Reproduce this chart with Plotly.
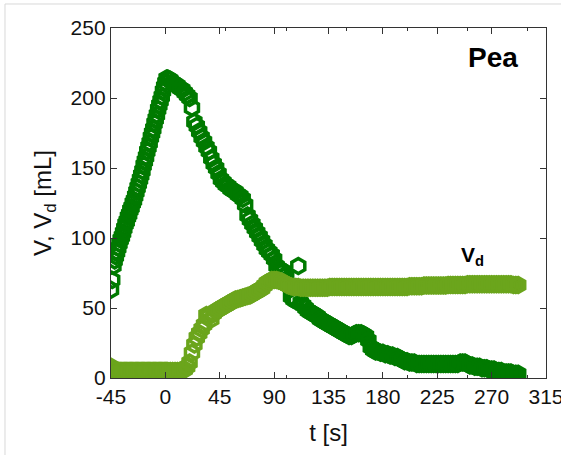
import plotly.graph_objects as go

# time axis [s]
t = [-45, -44, -43, -42, -41, -40, -39, -38, -37, -36, -35, -34, -33, -32, -31, -30,
     -29, -28, -27, -26, -25, -24, -23, -22, -21, -20, -19, -18, -17, -16, -15, -14,
     -13, -12, -11, -10, -9, -8, -7, -6, -5, -4, -3, -2, -1, 0, 1, 2,
     4, 6, 8, 10, 12, 14, 16, 18, 20, 22, 24, 26, 28, 30, 32, 34, 36, 38, 40, 42, 44,
     46, 48, 50, 52, 54, 56, 58, 60, 62, 64, 66, 68, 70, 72, 74, 76, 78, 80, 82, 84,
     86, 88, 90, 92, 94, 96, 98, 100, 102, 104, 106, 108, 110, 112, 114, 116, 118, 120,
     122, 124, 126, 128, 130, 132, 134, 136, 138, 140, 142, 144, 146, 148, 150, 152,
     154, 156, 158, 160, 162, 164, 166, 168, 170, 172, 174, 176, 178, 180, 182, 184,
     186, 188, 190, 192, 194, 196, 198, 200, 202, 204, 206, 208, 210, 212, 214, 216,
     218, 220, 222, 224, 226, 228, 230, 232, 234, 236, 238, 240, 242, 244, 246, 248,
     250, 252, 254, 256, 258, 260, 262, 264, 266, 268, 270, 272, 274, 276, 278, 280,
     282, 284, 286, 288, 290, 292]

# V [mL]
V = [63, 70, 80, 84, 87, 90, 93, 96, 99, 101, 104, 107, 110, 112, 115, 117,
     120, 122, 125, 127, 130, 133, 136, 139, 142, 145, 148, 152, 155, 158, 162, 165,
     168, 172, 175, 178, 182, 185, 188, 192, 195, 198, 201, 205, 208, 211, 214, 214,
     213, 211, 210, 209, 207, 206, 204, 202, 200, 193, 183, 180, 176, 172, 169, 165, 162, 157, 153, 150, 146,
     142, 140, 138, 137, 135, 134, 133, 131, 130, 128, 124, 116, 113, 110, 107, 104, 101, 98, 95, 92,
     90, 88, 85, 80, 78, 77, 76, 74, 66, 58, 56, 55, 80, 54, 52, 50, 48, 47,
     46, 45, 44, 42, 41, 40, 39, 38, 37, 36, 35, 34, 33, 32, 31, 30,
     30, 31, 32, 32, 32, 31, 30, 27, 22, 20, 19, 19, 18, 18, 17, 17,
     16, 16, 15, 15, 14, 13, 12, 12, 11, 11, 11, 10, 10, 10, 10, 10,
     10, 10, 10, 10, 10, 10, 10, 10, 10, 10, 10, 10, 10, 11, 11, 11,
     10, 9, 9, 8, 8, 8, 7, 7, 7, 6, 6, 6, 5, 5, 5, 4,
     4, 4, 4, 3, 3, 3]

# Vd [mL]
Vd = [8, 6, 5, 5, 5, 5, 5, 5, 5, 5, 5, 5, 5, 5, 5, 5,
      5, 5, 5, 5, 5, 5, 5, 5, 5, 5, 5, 5, 5, 5, 5, 5,
      5, 5, 5, 5, 5, 5, 5, 5, 5, 5, 5, 5, 5, 5, 5, 5,
      5, 5, 5, 5, 5, 5.5, 6, 8, 11, 18, 24, 29, 32, 35, 38, 45, 44, 42, 46, 48, 49,
      50, 51, 52, 53, 54, 55, 56, 56.5, 57, 57.5, 58, 58.5, 59, 60, 61, 62, 63, 64, 66, 68,
      69, 70, 70, 70, 69.5, 69, 68, 67, 66, 65.5, 65, 65, 65, 64.5, 64.5, 64.5, 64.5, 64.5,
      64.5, 64.5, 64.5, 64.5, 64.5, 64.5, 64.5, 65, 65, 65, 65, 65, 65, 65, 65, 65,
      65, 65, 65, 65, 65, 65, 65, 65, 65, 65, 65, 65, 65, 65, 65, 65,
      65, 65, 65, 65, 65, 65, 65, 65, 65.5, 65.5, 65.5, 65.5, 65.5, 65.5, 66, 66,
      66, 66, 66, 66, 66, 66, 66, 66, 66.5, 66.5, 66.5, 66.5, 66.5, 66.5, 66.5, 66.5,
      67, 67, 67, 67, 67, 67, 67, 67, 67, 67, 67, 67, 67, 67, 67, 67,
      67, 67, 67, 66.5, 66.5, 66.5]

x_ticks = [-45, 0, 45, 90, 135, 180, 225, 270, 315]
y_ticks = [0, 50, 100, 150, 200, 250]

dark_green = "#007a00"
light_green = "#6ba51c"
FONT = "Liberation Sans, Arial, sans-serif"

fig = go.Figure()
fig.add_trace(go.Scatter(
    x=t, y=V, mode="markers", name="V",
    marker=dict(symbol="hexagon-open", size=15, color=dark_green,
                line=dict(width=3.5, color=dark_green)),
    showlegend=False))
fig.add_trace(go.Scatter(
    x=t, y=Vd, mode="markers", name="Vd",
    marker=dict(symbol="hexagon-open", size=15, color=light_green,
                line=dict(width=3.5, color=light_green)),
    showlegend=False))

axis_common = dict(
    showline=True, linecolor="#333333", linewidth=1.3, mirror="allticks",
    ticks="inside", ticklen=6, tickwidth=1.2, tickcolor="#333333",
    showgrid=False, zeroline=False, automargin=False,
    tickfont=dict(family=FONT, size=21, color="#111111"),
    minor=dict(ticks="inside", ticklen=3, tickwidth=1.2, tickcolor="#333333", nticks=2),
)

fig.update_xaxes(range=[-45, 315], tickvals=x_ticks, ticktext=[str(v) for v in x_ticks],
                 ticklabeloverflow="allow",
                 title=dict(text="t [s]", font=dict(family=FONT, size=24, color="#111111"),
                            standoff=16),
                 **axis_common)
fig.update_yaxes(range=[0, 250], tickvals=y_ticks, ticktext=[str(v) for v in y_ticks],
                 ticklabeloverflow="allow",
                 title=dict(text="V, V<sub>d</sub> [mL]",
                            font=dict(family=FONT, size=24, color="#111111"), standoff=12),
                 **axis_common)

fig.add_annotation(x=0.94, y=0.917, xref="paper", yref="paper", text="<b>Pea</b>",
                   showarrow=False, xanchor="right", yanchor="middle",
                   font=dict(family=FONT, size=28, color="#000000"))
fig.add_annotation(x=254, y=87, xref="x", yref="y", text="<b>V<sub>d</sub></b>",
                   showarrow=False, xanchor="center", yanchor="middle",
                   font=dict(family=FONT, size=21, color="#000000"))

# light gray outer frame (top and left edges)
fig.add_shape(type="line", xref="paper", yref="paper", x0=-0.2437, y0=1.0686,
              x1=1.04, y1=1.0686, line=dict(color="#d8d8d8", width=1))
fig.add_shape(type="line", xref="paper", yref="paper", x0=-0.2437, y0=1.0686,
              x1=-0.2437, y1=-0.23, line=dict(color="#d8d8d8", width=1))

fig.update_layout(
    width=561, height=455,
    margin=dict(l=111, r=15, t=28, b=77),
    paper_bgcolor="white", plot_bgcolor="white",
    font=dict(family=FONT),
)

fig.write_html("out.html", config={"displayModeBar": False},
               post_script="document.body.style.margin='0px';document.body.style.overflow='hidden';")
